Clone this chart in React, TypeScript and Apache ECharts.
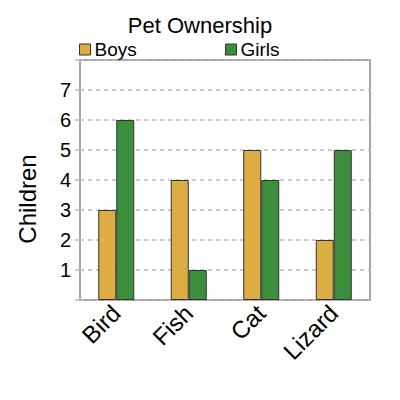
import { useEffect, useRef } from "react";
import * as echarts from "echarts";

const categories = ["Bird", "Fish", "Cat", "Lizard"];
const boys = [3, 4, 5, 2];
const girls = [6, 1, 4, 5];

const FONT = "Liberation Sans, Arial, sans-serif";

export default function App() {
    const chartRef = useRef<HTMLDivElement>(null);

    useEffect(() => {
        if (!chartRef.current) return;
        const chart = echarts.init(chartRef.current, null, { renderer: "svg" });

        const legendBase = {
            icon: "rect",
            itemWidth: 11,
            itemHeight: 11,
            itemGap: 5,
            top: 40,
            padding: 0,
            itemStyle: { borderColor: "#333", borderWidth: 1 },
            textStyle: {
                color: "#000",
                fontFamily: FONT,
                fontSize: 19,
                lineHeight: 19,
                padding: [0, 0, 0, -1],
            },
        };

        chart.setOption({
            animation: false,
            textStyle: { fontFamily: FONT },
            title: {
                text: "Pet Ownership",
                left: "center",
                top: 14,
                padding: 0,
                textStyle: {
                    color: "#000",
                    fontFamily: FONT,
                    fontSize: 22,
                    lineHeight: 22,
                    fontWeight: "normal",
                },
            },
            legend: [
                { ...legendBase, left: 79, data: ["Boys"] },
                { ...legendBase, left: 225, data: ["Girls"] },
            ],
            grid: {
                left: 80,
                right: 30,
                top: 60,
                bottom: 100,
                show: true,
                borderColor: "#888",
                borderWidth: 1.5,
            },
            xAxis: {
                type: "category",
                data: categories,
                axisLine: { show: false },
                axisTick: { show: false },
                axisLabel: {
                    rotate: 45,
                    margin: 9,
                    color: "#000",
                    fontFamily: FONT,
                    fontSize: 24,
                },
            },
            yAxis: {
                type: "value",
                min: 0,
                max: 8,
                interval: 1,
                axisLine: { show: false },
                axisTick: { show: true, length: 5, lineStyle: { color: "#bbb", width: 1.5 } },
                axisLabel: {
                    margin: 9,
                    color: "#000",
                    fontFamily: FONT,
                    fontSize: 20,
                    formatter: (v: number) => (v === 0 || v === 8 ? "" : String(v)),
                },
                splitLine: {
                    lineStyle: { color: "#bbb", type: [4, 4], width: 1.5 },
                },
            },
            graphic: [
                {
                    type: "text",
                    x: 27,
                    y: 199,
                    rotation: Math.PI / 2,
                    style: {
                        text: "Children",
                        fill: "#000",
                        font: `24px ${FONT}`,
                        align: "center",
                        verticalAlign: "middle",
                    },
                },
            ],
            series: [
                {
                    name: "Boys",
                    type: "bar",
                    data: boys,
                    barWidth: 18,
                    barGap: "0%",
                    itemStyle: { color: "#DCAC45", borderColor: "#333", borderWidth: 1 },
                },
                {
                    name: "Girls",
                    type: "bar",
                    data: girls,
                    barWidth: 18,
                    barGap: "0%",
                    itemStyle: { color: "#3B8E3B", borderColor: "#333", borderWidth: 1 },
                },
            ],
        });

        return () => chart.dispose();
    }, []);

    return <div ref={chartRef} style={{ width: 400, height: 400, margin: -8 }} />;
}
